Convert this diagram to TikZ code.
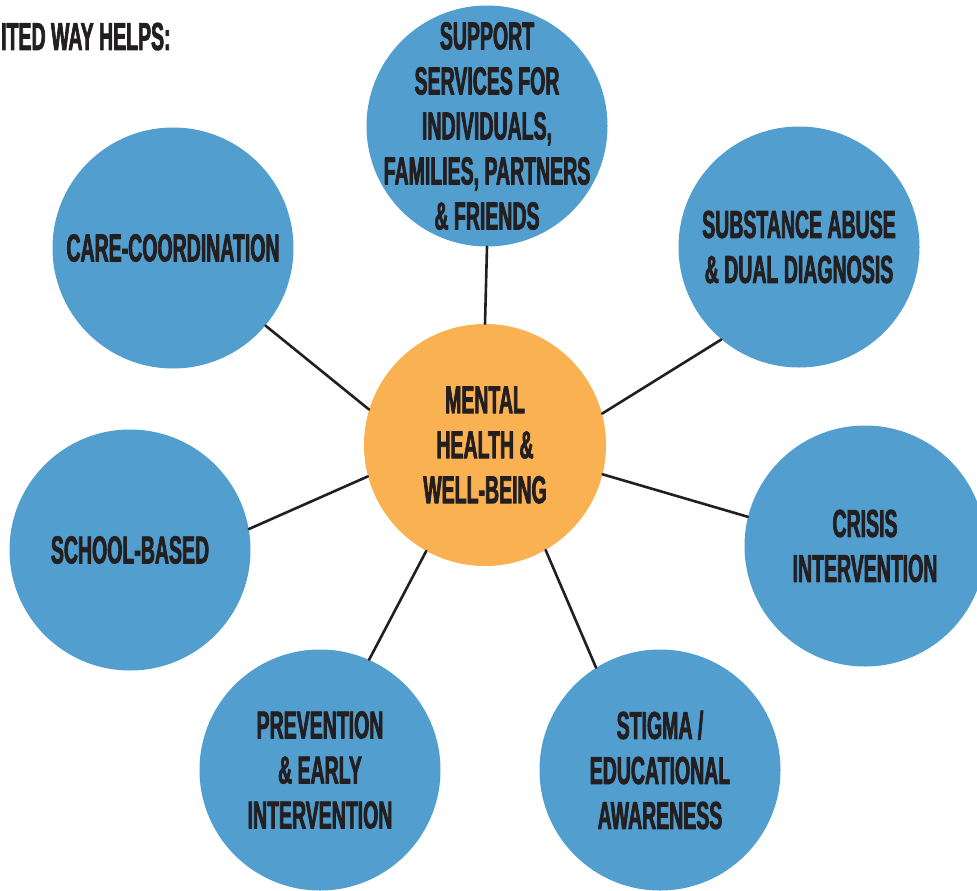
\documentclass[tikz,border=0pt]{standalone}
\usepackage{fontspec}
\newfontfamily\gothic[FakeStretch=0.5,FakeBold=1.8]{Liberation Sans}
\definecolor{bubbleblue}{HTML}{519ECF}
\definecolor{coreorange}{HTML}{FAB152}
\definecolor{inkdark}{HTML}{231F20}
\tikzset{
  bubble/.style={circle, fill=bubbleblue, minimum size=241pt, inner sep=0pt},
  core/.style={circle, fill=coreorange, minimum size=242pt, inner sep=0pt},
  caption/.style={text=inkdark, align=center, font=\gothic\bfseries\fontsize{39}{45}\selectfont},
  spoke/.style={draw=inkdark, line width=2.6pt},
}
\begin{document}
\begin{tikzpicture}[line cap=round, line join=round, x=1pt, y=-1pt]

            \useasboundingbox (0,0) rectangle (977,891);

            \node[core] (mh) at (485,445) {};
            \node[bubble] (sup) at (487,126) {};
            \node[bubble] (care) at (173,248) {};
            \node[bubble] (sub) at (799,247) {};
            \node[bubble] (school) at (130,550) {};
            \node[bubble] (crisis) at (865,546) {};
            \node[bubble] (prev) at (320,770) {};
            \node[bubble] (stigma) at (660,770) {};

            \draw[spoke] (mh.90) -- (sup.-90);
            \draw[spoke] (mh.163.5) -- (care.-40);
            \draw[spoke] (mh.15.5) -- (sub.230.6);
            \draw[spoke] (mh.195.3) -- (school.10.6);
            \draw[spoke] (mh.-14) -- (crisis.166);
            \draw[spoke] (mh.241.9) -- (prev.66.9);
            \draw[spoke] (mh.-60.6) -- (stigma.122);

            \node[caption, inner sep=0pt, anchor=base west] (title) at (1,50) {ITED WAY HELPS:};

            \node[caption] (mh-text) at (mh) {MENTAL\\HEALTH \&\\WELL-BEING};
            \node[caption] (sup-text) at (sup) {SUPPORT\\SERVICES FOR\\INDIVIDUALS,\\FAMILIES, PARTNERS\\\& FRIENDS};
            \node[caption] (care-text) at (care) {CARE-COORDINATION};
            \node[caption] (sub-text) at (sub) {SUBSTANCE ABUSE\\\& DUAL DIAGNOSIS};
            \node[caption] (school-text) at (school) {SCHOOL-BASED};
            \node[caption] (crisis-text) at (crisis) {CRISIS\\INTERVENTION};
            \node[caption] (prev-text) at (prev) {PREVENTION\\\& EARLY\\INTERVENTION};
            \node[caption] (stigma-text) at (stigma) {STIGMA /\\EDUCATIONAL\\AWARENESS};

        \end{tikzpicture}
\end{document}
